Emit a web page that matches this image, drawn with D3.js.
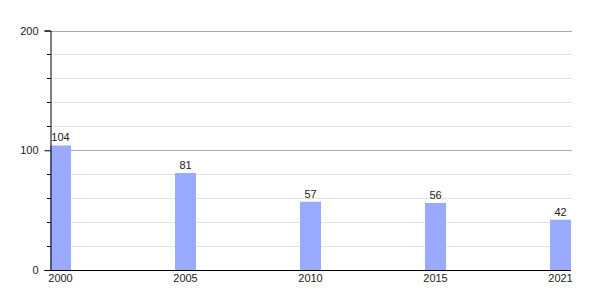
<!DOCTYPE html>
<html>
<head>
<meta charset="utf-8">
<script src="https://cdn.jsdelivr.net/npm/d3@7"></script>
<style>
	body { margin: 0; background: #fff; }
	text { font-family: "Liberation Sans", Arial, sans-serif; font-size: 11px; fill: #222; }
</style>
</head>
<body>
<div id="chart-area"></div>
<script>
// Data
var years = ["2000", "2005", "2010", "2015", "2021"];
var values = [104, 81, 57, 56, 42];
var majorTicks = [0, 100, 200];
var minorTicks = [20, 40, 60, 80, 120, 140, 160, 180];

var width = 600, height = 300;

var svg = d3.select("#chart-area").append("svg")
	.attr("width", width)
	.attr("height", height);

var xScale = d3.scaleBand()
	.domain(years)
	.range([50, 571])
	.paddingInner(0.832)
	.paddingOuter(0);

var yScale = d3.scaleLinear()
	.domain([0, 200])
	.range([270, 30.5]);

// grid lines
svg.append("g").selectAll("line")
	.data(minorTicks)
	.enter().append("line")
	.attr("x1", 50).attr("x2", 572)
	.attr("y1", d => Math.round(yScale(d)) + 0.5)
	.attr("y2", d => Math.round(yScale(d)) + 0.5)
	.attr("stroke", "#e2e2e2");

svg.append("g").selectAll("line")
	.data(majorTicks.filter(d => d > 0))
	.enter().append("line")
	.attr("x1", 50).attr("x2", 572)
	.attr("y1", d => Math.round(yScale(d)) + 0.5)
	.attr("y2", d => Math.round(yScale(d)) + 0.5)
	.attr("stroke", "#ababab");

// bars
var bars = svg.append("g");
bars.selectAll("rect")
	.data(values)
	.enter().append("rect")
	.attr("x", (d, i) => xScale(years[i]))
	.attr("width", xScale.bandwidth())
	.attr("y", d => yScale(d))
	.attr("height", d => yScale(0) - yScale(d))
	.attr("fill", "#99aaff");

bars.selectAll("text")
	.data(values)
	.enter().append("text")
	.attr("x", (d, i) => xScale(years[i]) + xScale.bandwidth() / 2)
	.attr("y", d => yScale(d) - 4)
	.attr("text-anchor", "middle")
	.text(d => d);

// y axis
var yAxis = d3.axisLeft(yScale).tickValues(majorTicks).tickSize(6).tickPadding(6);
var yAxisGroup = svg.append("g")
	.attr("transform", "translate(50.5,0)")
	.call(yAxis);
yAxisGroup.select(".domain").attr("stroke", "#000");
yAxisGroup.selectAll("line").attr("stroke", "#000");
yAxisGroup.selectAll("text").attr("font-size", null).attr("font-family", null);

svg.append("g").selectAll("line")
	.data(minorTicks)
	.enter().append("line")
	.attr("x1", 47).attr("x2", 50.5)
	.attr("y1", d => Math.round(yScale(d)) + 0.5)
	.attr("y2", d => Math.round(yScale(d)) + 0.5)
	.attr("stroke", "#000");

// x axis
var xAxis = d3.axisBottom(xScale).tickSize(0).tickPadding(4);
var xAxisGroup = svg.append("g")
	.attr("transform", "translate(0,270.5)")
	.call(xAxis);
xAxisGroup.select(".domain").attr("stroke", "#000").attr("d", "M50,0H571");
xAxisGroup.selectAll("text").attr("font-size", null).attr("font-family", null);
</script>
</body>
</html>
